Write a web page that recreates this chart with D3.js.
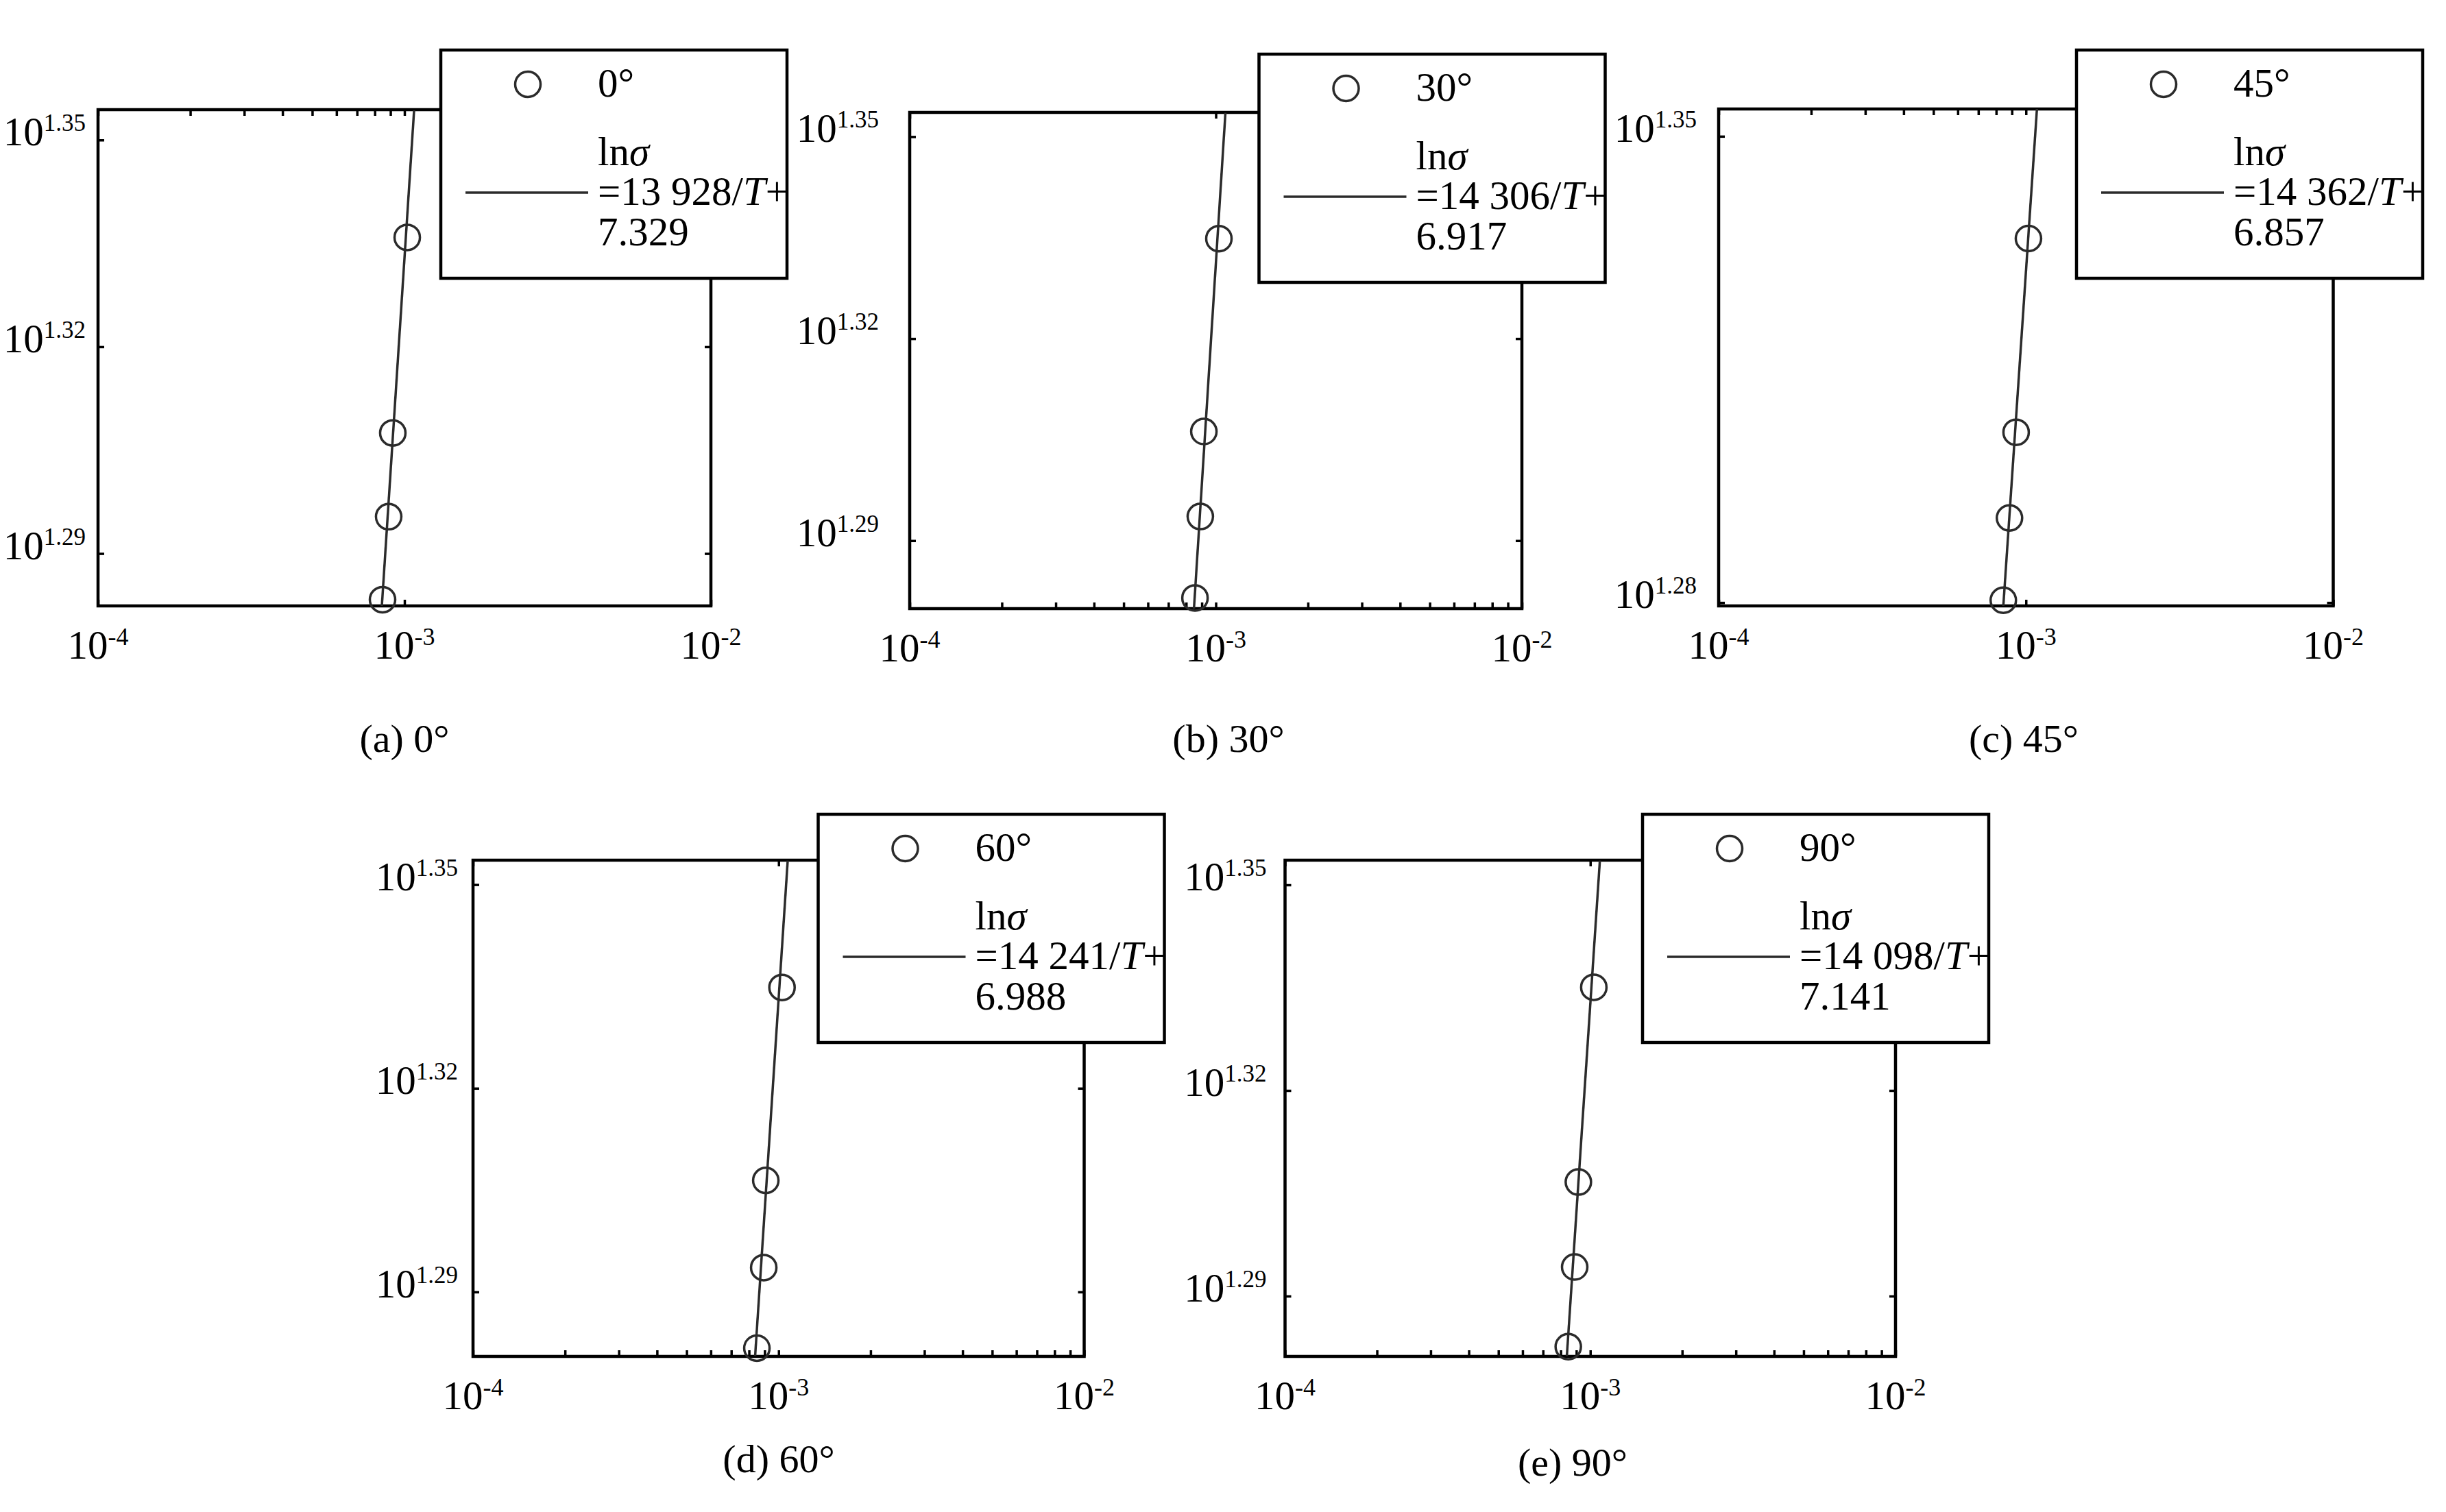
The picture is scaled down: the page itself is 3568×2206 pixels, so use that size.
<!DOCTYPE html>
<html>
<head>
<meta charset="utf-8">
<script src="https://cdn.jsdelivr.net/npm/d3@7"></script>
<style>
  body { margin: 0; background: #fff; }
  svg { display: block; font-family: "Liberation Serif", "Times New Roman", serif; }
</style>
</head>
<body>
<div id="chart"></div>
<script>
// ---- data ----
var angleLabels = ["0°", "30°", "45°", "60°", "90°"];
var captions = ["(a) 0°", "(b) 30°", "(c) 45°", "(d) 60°", "(e) 90°"];
var fitSlope = [13928, 14306, 14362, 14241, 14098];
var fitIntercept = [7.329, 6.917, 6.857, 6.988, 7.141];

// measured points (x = 1/T, y = sigma)
var invT = [
    [1.021e-3, 0.916e-3, 0.888e-3, 0.848e-3],
    [1.0235e-3, 0.914e-3, 0.890e-3, 0.855e-3],
    [1.019e-3, 0.929e-3, 0.884e-3, 0.844e-3],
    [1.026e-3, 0.908e-3, 0.894e-3, 0.849e-3],
    [1.027e-3, 0.914e-3, 0.889e-3, 0.847e-3]
];
var sigma = [
    [21.67, 20.30, 19.74, 19.20],
    [21.62, 20.24, 19.66, 19.12],
    [21.61, 20.21, 19.62, 19.07],
    [21.62, 20.25, 19.66, 19.13],
    [21.63, 20.26, 19.69, 19.17]
];
// fitted line, two end points per panel
var fitInvT = [
    [1.075e-3, 0.8437e-3],
    [1.075e-3, 0.8485e-3],
    [1.086e-3, 0.844e-3],
    [1.071e-3, 0.838e-3],
    [1.075e-3, 0.838e-3]
];
var fitSigma = [
    [22.61, 19.16],
    [22.57, 19.05],
    [22.60, 19.03],
    [22.57, 19.08],
    [22.57, 19.11]
];

var xLim = [1e-4, 1e-2];
var xTickExp = [-4, -3, -2];
var yLimExp = [
    [1.2824, 1.3544],
    [1.2799, 1.3536],
    [1.2795, 1.3541],
    [1.2805, 1.3536],
    [1.2812, 1.3536]
];
var yTickExp = [
    ["1.29", "1.32", "1.35"],
    ["1.29", "1.32", "1.35"],
    ["1.28", "1.35"],
    ["1.29", "1.32", "1.35"],
    ["1.29", "1.32", "1.35"]
];

// ---- layout ----
var width = 3568;
var height = 2206;
var frames = [
    {x0: 143, x1: 1037, y0: 160, y1: 884, legX: 643, legY: 73, capX: 590, capY: 1097, gap: 18, minorTop: true},
    {x0: 1327, x1: 2220, y0: 164, y1: 888, legX: 1836.5, legY: 79, capX: 1792, capY: 1097, gap: 45, minorTop: false},
    {x0: 2507, x1: 3403.5, y0: 159, y1: 884, legX: 3029, legY: 73, capX: 2952, capY: 1097, gap: 32, minorTop: true},
    {x0: 690, x1: 1581.5, y0: 1255, y1: 1979, legX: 1193.5, legY: 1188, capX: 1136, capY: 2148, gap: 22, minorTop: false},
    {x0: 1874.5, x1: 2765, y0: 1255, y1: 1979, legX: 2396, legY: 1188, capX: 2294, capY: 2153, gap: 27, minorTop: false}
];
var ink = "#2b2b2b";
var tickLen = 9;

var svg = d3.select("#chart")
            .append("svg")
            .attr("width", width)
            .attr("height", height);

svg.append("rect").attr("width", width).attr("height", height).attr("fill", "#fff");

function thousands(n) {
    var s = String(n);
    return s.slice(0, s.length - 3) + " " + s.slice(s.length - 3);
}

function drawPanel(i) {
    var f = frames[i];
    var g = svg.append("g");

    var x = d3.scaleLog().domain(xLim).range([f.x0, f.x1]);
    var y = d3.scaleLog()
              .domain(yLimExp[i].map((e) => Math.pow(10, e)))
              .range([f.y1, f.y0]);

    // x ticks: minor + major on one side, major only on the other
    var allX = x.ticks();
    var majorX = xTickExp.map((e) => Math.pow(10, e));
    var axTop = d3.axisTop(x).tickValues(f.minorTop ? allX : majorX)
                  .tickSizeInner(-tickLen).tickSizeOuter(0).tickFormat("");
    var axBot = d3.axisBottom(x).tickValues(f.minorTop ? majorX : allX)
                  .tickSizeInner(-tickLen).tickSizeOuter(0).tickFormat("");
    var yVals = yTickExp[i].map((e) => Math.pow(10, +e));
    var axL = d3.axisLeft(y).tickValues(yVals).tickSizeInner(-tickLen).tickSizeOuter(0).tickFormat("");
    var axR = d3.axisRight(y).tickValues(yVals).tickSizeInner(-tickLen).tickSizeOuter(0).tickFormat("");

    [[axTop, "translate(0," + f.y0 + ")"],
     [axBot, "translate(0," + f.y1 + ")"],
     [axL, "translate(" + f.x0 + ",0)"],
     [axR, "translate(" + f.x1 + ",0)"]].forEach(function(a) {
        var ga = g.append("g").attr("transform", a[1]).call(a[0]);
        ga.select(".domain").remove();
        ga.selectAll("line").attr("stroke", "#000").attr("stroke-width", 3.5);
    });

    // frame
    g.append("rect")
        .attr("x", f.x0)
        .attr("y", f.y0)
        .attr("width", f.x1 - f.x0)
        .attr("height", f.y1 - f.y0)
        .attr("fill", "none")
        .attr("stroke", "#000")
        .attr("stroke-width", 4.5);

    // x tick labels 10^n
    var xl = g.append("g")
        .selectAll("text")
        .data(xTickExp)
        .enter()
        .append("text")
        .attr("x", (d) => x(Math.pow(10, d)))
        .attr("y", f.y1 + 77)
        .attr("text-anchor", "middle")
        .attr("font-size", 59);
    xl.append("tspan").text("10");
    xl.append("tspan").attr("font-size", 36).attr("dy", -20).text((d) => "-" + Math.abs(d));

    // y tick labels 10^e
    var yl = g.append("g")
        .selectAll("text")
        .data(yTickExp[i])
        .enter()
        .append("text")
        .attr("x", f.x0 - f.gap)
        .attr("y", (d) => y(Math.pow(10, +d)) + 8)
        .attr("text-anchor", "end")
        .attr("font-size", 59);
    yl.append("tspan").text("10");
    yl.append("tspan").attr("font-size", 35).attr("dy", -21).text((d) => d);

    // fitted line (clipped to plot area)
    g.append("clipPath")
        .attr("id", "clip" + i)
        .append("rect")
        .attr("x", f.x0)
        .attr("y", f.y0)
        .attr("width", f.x1 - f.x0)
        .attr("height", f.y1 - f.y0);

    var line = d3.line().x((d) => x(d[0])).y((d) => y(d[1]));
    g.append("path")
        .datum(d3.zip(fitInvT[i], fitSigma[i]))
        .attr("d", line)
        .attr("clip-path", "url(#clip" + i + ")")
        .attr("fill", "none")
        .attr("stroke", ink)
        .attr("stroke-width", 3.5);

    // measured points
    g.append("g")
        .selectAll("circle")
        .data(d3.zip(invT[i], sigma[i]))
        .enter()
        .append("circle")
        .attr("cx", (d) => x(d[0]))
        .attr("cy", (d) => y(d[1]))
        .attr("r", 18.5)
        .attr("fill", "none")
        .attr("stroke", ink)
        .attr("stroke-width", 3.5);

    // legend
    var leg = g.append("g").attr("transform", "translate(" + f.legX + "," + f.legY + ")");
    leg.append("rect")
        .attr("width", 505)
        .attr("height", 333)
        .attr("fill", "#fff")
        .attr("stroke", "#000")
        .attr("stroke-width", 4.5);
    leg.append("circle")
        .attr("cx", 127)
        .attr("cy", 50)
        .attr("r", 18.5)
        .attr("fill", "none")
        .attr("stroke", ink)
        .attr("stroke-width", 3.5);
    leg.append("text")
        .attr("x", 229)
        .attr("y", 68)
        .attr("font-size", 59)
        .text(angleLabels[i]);
    leg.append("line")
        .attr("x1", 36)
        .attr("x2", 215)
        .attr("y1", 208)
        .attr("y2", 208)
        .attr("stroke", ink)
        .attr("stroke-width", 3.5);

    var t1 = leg.append("text").attr("x", 229).attr("y", 168).attr("font-size", 59);
    t1.append("tspan").text("ln");
    t1.append("tspan").attr("font-style", "italic").text("σ");

    var t2 = leg.append("text").attr("x", 229).attr("y", 226).attr("font-size", 59);
    t2.append("tspan").text("=" + thousands(fitSlope[i]) + "/");
    t2.append("tspan").attr("font-style", "italic").text("T");
    t2.append("tspan").text("+");

    leg.append("text")
        .attr("x", 229)
        .attr("y", 285)
        .attr("font-size", 59)
        .text(d3.format(".3f")(fitIntercept[i]));

    // caption
    g.append("text")
        .attr("x", f.capX)
        .attr("y", f.capY)
        .attr("text-anchor", "middle")
        .attr("font-size", 58)
        .text(captions[i]);
}

for (var i = 0; i < frames.length; i++) {
    drawPanel(i);
}
</script>
</body>
</html>
